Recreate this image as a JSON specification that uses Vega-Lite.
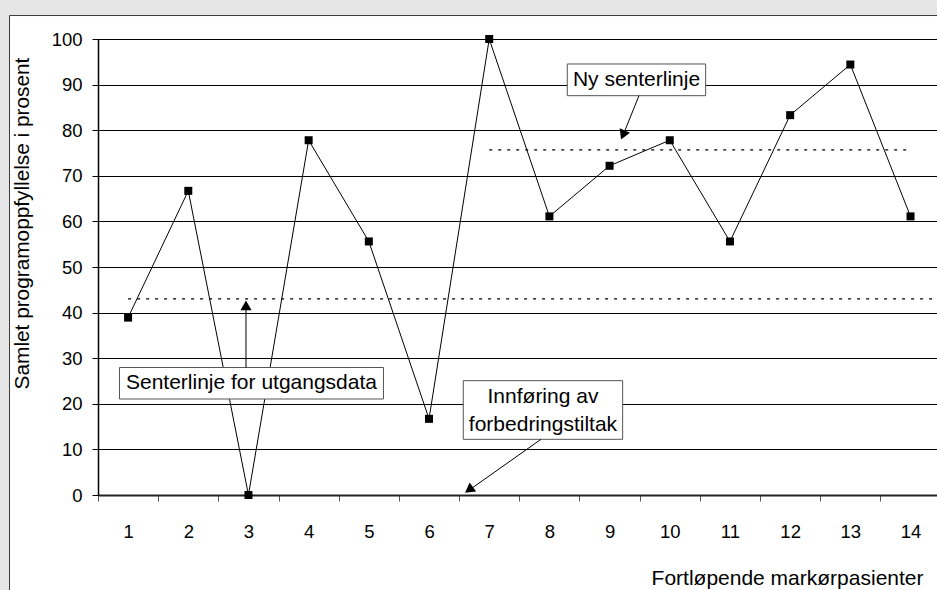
{
  "$schema": "https://vega.github.io/schema/vega-lite/v6.json",
  "width": 839,
  "height": 456,
  "autosize": {"type": "none"},
  "padding": {"left": 98, "top": 39, "right": 0, "bottom": 95},
  "background": "white",
  "config": {"font": "Liberation Sans", "view": {"stroke": null}},
  "resolve": {"axis": {"x": "independent", "y": "independent"}},
  "datasets": {
    "maalinger": [
      {"nr": 1, "pct": 38.9}, {"nr": 2, "pct": 66.7}, {"nr": 3, "pct": 0},
      {"nr": 4, "pct": 77.8}, {"nr": 5, "pct": 55.6}, {"nr": 6, "pct": 16.7},
      {"nr": 7, "pct": 100}, {"nr": 8, "pct": 61.1}, {"nr": 9, "pct": 72.2},
      {"nr": 10, "pct": 77.8}, {"nr": 11, "pct": 55.6}, {"nr": 12, "pct": 83.3},
      {"nr": 13, "pct": 94.4}, {"nr": 14, "pct": 61.1}
    ],
    "senterlinjer": [
      {"fase": "Utgangsdata", "fra": 1, "til": 14.5, "senter": 43.0},
      {"fase": "Etter tiltak", "fra": 7, "til": 14, "senter": 75.7}
    ]
  },
  "layer": [
    {
      "data": {"values": [{}]},
      "mark": {"type": "rect", "fill": "#e6e6e6", "clip": false},
      "encoding": {
        "x": {"datum": -3, "type": "quantitative", "scale": {"domain": [0.5, 14.44], "nice": false, "zero": false}, "axis": null},
        "x2": {"datum": -0.97},
        "y": {"datum": -60, "type": "quantitative", "scale": {"domain": [0, 100], "nice": false}, "axis": null},
        "y2": {"datum": 200}
      }
    },
    {
      "data": {"values": [{}]},
      "mark": {"type": "rect", "fill": "#e6e6e6", "clip": false},
      "encoding": {
        "x": {"datum": -3, "type": "quantitative", "axis": null},
        "x2": {"datum": 20},
        "y": {"datum": 105.15, "type": "quantitative", "axis": null},
        "y2": {"datum": 200}
      }
    },
    {
      "data": {"values": [{}]},
      "mark": {"type": "rect", "fill": null, "stroke": "#3a3a3a", "strokeWidth": 1, "clip": false},
      "encoding": {
        "x": {"datum": -0.97, "type": "quantitative", "axis": null},
        "x2": {"datum": 20},
        "y": {"datum": -60, "type": "quantitative", "axis": null},
        "y2": {"datum": 105.15}
      }
    },
    {
      "data": {"name": "senterlinjer"},
      "mark": {"type": "rule", "color": "black", "strokeWidth": 1.2, "strokeDash": [3, 6], "clip": true},
      "encoding": {
        "x": {"field": "fra", "type": "quantitative", "axis": null},
        "x2": {"field": "til"},
        "y": {"field": "senter", "type": "quantitative", "axis": null}
      }
    },
    {
      "data": {"name": "maalinger"},
      "mark": {"type": "line", "color": "black", "strokeWidth": 1},
      "encoding": {
        "x": {
          "field": "nr", "type": "quantitative",
          "axis": {
            "orient": "bottom",
            "values": [0.5, 1, 1.5, 2, 2.5, 3, 3.5, 4, 4.5, 5, 5.5, 6, 6.5, 7, 7.5, 8, 8.5, 9, 9.5, 10, 10.5, 11, 11.5, 12, 12.5, 13, 13.5, 14, 14.5],
            "grid": false,
            "domainColor": "#222222",
            "domainWidth": 2,
            "tickColor": "#555555",
            "tickSize": 6,
            "tickWidth": 1,
            "tickOpacity": {"condition": {"test": "datum.value % 1 === 0", "value": 0}, "value": 1},
            "labelExpr": "datum.value % 1 === 0 ? format(datum.value, 'd') : ''",
            "labelFontSize": 18.5,
            "labelColor": "black",
            "labelPadding": 21,
            "labelBaseline": "top",
            "labelOverlap": false,
            "labelFlush": false,
            "labelBound": false,
            "title": "Fortløpende markørpasienter",
            "titleFontSize": 21,
            "titleFontWeight": "normal",
            "titleColor": "black",
            "titleX": 825,
            "titleY": 83,
            "titleAlign": "right",
            "titleBaseline": "middle"
          }
        },
        "y": {
          "field": "pct", "type": "quantitative",
          "axis": {
            "orient": "left",
            "values": [0, 10, 20, 30, 40, 50, 60, 70, 80, 90, 100],
            "grid": true,
            "gridColor": "black",
            "gridWidth": 1,
            "domainColor": "black",
            "domainWidth": 1.5,
            "tickColor": "black",
            "tickSize": 6,
            "labelFontSize": 18.5,
            "labelColor": "black",
            "labelPadding": 10,
            "labelFlush": false,
            "title": "Samlet programoppfyllelse i prosent",
            "titleFontSize": 20.8,
            "titleFontWeight": "normal",
            "titleColor": "black",
            "titleAngle": -90,
            "titleX": -76,
            "titleY": 184,
            "titleAlign": "center",
            "titleBaseline": "middle"
          }
        }
      }
    },
    {
      "data": {"name": "maalinger"},
      "mark": {"type": "point", "shape": "square", "filled": true, "color": "black", "size": 64, "opacity": 1},
      "encoding": {
        "x": {"field": "nr", "type": "quantitative", "axis": null},
        "y": {"field": "pct", "type": "quantitative", "axis": null}
      }
    },
    {
      "data": {"values": [{}]},
      "mark": {"type": "rect", "fill": "white", "stroke": "#555555", "strokeWidth": 1},
      "encoding": {
        "x": {"datum": 0.857, "type": "quantitative", "axis": null},
        "x2": {"datum": 5.243},
        "y": {"datum": 27.96, "type": "quantitative", "axis": null},
        "y2": {"datum": 21.05}
      }
    },
    {
      "data": {"values": [{}]},
      "mark": {"type": "rect", "fill": "white", "stroke": "#555555", "strokeWidth": 1},
      "encoding": {
        "x": {"datum": 6.569, "type": "quantitative", "axis": null},
        "x2": {"datum": 9.217},
        "y": {"datum": 25.07, "type": "quantitative", "axis": null},
        "y2": {"datum": 12.21}
      }
    },
    {
      "data": {"values": [{}]},
      "mark": {"type": "rect", "fill": "white", "stroke": "#555555", "strokeWidth": 1},
      "encoding": {
        "x": {"datum": 8.297, "type": "quantitative", "axis": null},
        "x2": {"datum": 10.596},
        "y": {"datum": 94.52, "type": "quantitative", "axis": null},
        "y2": {"datum": 87.57}
      }
    },
    {
      "data": {"values": [{}]},
      "mark": {"type": "text", "text": "Senterlinje for utgangsdata", "fontSize": 21, "color": "black", "align": "center", "baseline": "middle"},
      "encoding": {
        "x": {"datum": 3.05, "type": "quantitative", "axis": null},
        "y": {"datum": 24.56, "type": "quantitative", "axis": null}
      }
    },
    {
      "data": {"values": [{}]},
      "mark": {"type": "text", "text": "Innføring av", "fontSize": 21, "color": "black", "align": "center", "baseline": "middle"},
      "encoding": {
        "x": {"datum": 7.893, "type": "quantitative", "axis": null},
        "y": {"datum": 21.43, "type": "quantitative", "axis": null}
      }
    },
    {
      "data": {"values": [{}]},
      "mark": {"type": "text", "text": "forbedringstiltak", "fontSize": 21, "color": "black", "align": "center", "baseline": "middle"},
      "encoding": {
        "x": {"datum": 7.893, "type": "quantitative", "axis": null},
        "y": {"datum": 15.35, "type": "quantitative", "axis": null}
      }
    },
    {
      "data": {"values": [{}]},
      "mark": {"type": "text", "text": "Ny senterlinje", "fontSize": 21, "color": "black", "align": "center", "baseline": "middle"},
      "encoding": {
        "x": {"datum": 9.447, "type": "quantitative", "axis": null},
        "y": {"datum": 91.0, "type": "quantitative", "axis": null}
      }
    },
    {
      "data": {"values": [{}]},
      "mark": {"type": "rule", "color": "black", "strokeWidth": 1},
      "encoding": {
        "x": {"datum": 2.959, "type": "quantitative", "axis": null},
        "x2": {"datum": 2.959},
        "y": {"datum": 27.96, "type": "quantitative", "axis": null},
        "y2": {"datum": 41.5}
      }
    },
    {
      "data": {"values": [{}]},
      "mark": {"type": "rule", "color": "black", "strokeWidth": 1},
      "encoding": {
        "x": {"datum": 7.86, "type": "quantitative", "axis": null},
        "x2": {"datum": 6.68},
        "y": {"datum": 12.21, "type": "quantitative", "axis": null},
        "y2": {"datum": 1.2}
      }
    },
    {
      "data": {"values": [{}]},
      "mark": {"type": "rule", "color": "black", "strokeWidth": 1},
      "encoding": {
        "x": {"datum": 9.488, "type": "quantitative", "axis": null},
        "x2": {"datum": 9.23},
        "y": {"datum": 87.57, "type": "quantitative", "axis": null},
        "y2": {"datum": 79.1}
      }
    },
    {
      "data": {"values": [{}]},
      "mark": {"type": "point", "shape": "triangle-up", "filled": true, "color": "black", "size": 125, "opacity": 1},
      "encoding": {
        "x": {"datum": 2.959, "type": "quantitative", "axis": null},
        "y": {"datum": 41.6, "type": "quantitative", "axis": null}
      }
    },
    {
      "data": {"values": [{}]},
      "mark": {"type": "point", "shape": "triangle-up", "filled": true, "color": "black", "size": 125, "opacity": 1, "angle": 233.7},
      "encoding": {
        "x": {"datum": 6.664, "type": "quantitative", "axis": null},
        "y": {"datum": 1.1, "type": "quantitative", "axis": null}
      }
    },
    {
      "data": {"values": [{}]},
      "mark": {"type": "point", "shape": "triangle-up", "filled": true, "color": "black", "size": 125, "opacity": 1, "angle": 203.3},
      "encoding": {
        "x": {"datum": 9.222, "type": "quantitative", "axis": null},
        "y": {"datum": 78.95, "type": "quantitative", "axis": null}
      }
    }
  ]
}
